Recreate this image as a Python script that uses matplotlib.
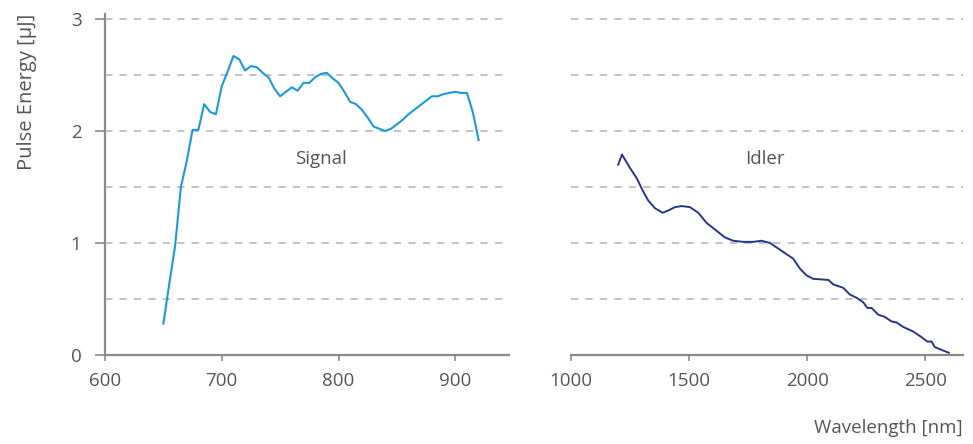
import numpy as np
import matplotlib
matplotlib.use('Agg')
import matplotlib.pyplot as plt

# Signal branch (nm, uJ)
sig_wl = [650, 655, 660, 665, 670, 675, 680, 685, 690, 695, 700, 705, 710, 715,
          720, 725, 730, 735, 740, 745, 750, 755, 760, 765, 770, 775, 780, 785,
          790, 795, 800, 805, 810, 815, 820, 825, 830, 835, 840, 845, 850, 855,
          860, 865, 870, 875, 880, 885, 890, 895, 900, 905, 910, 915, 920]
sig_E = [0.28, 0.63, 0.97, 1.50, 1.73, 2.01, 2.01, 2.24, 2.17, 2.15, 2.40, 2.53,
         2.67, 2.64, 2.54, 2.58, 2.57, 2.52, 2.48, 2.38, 2.31, 2.35, 2.39, 2.36,
         2.43, 2.43, 2.48, 2.51, 2.52, 2.47, 2.43, 2.35, 2.26, 2.24, 2.19, 2.12,
         2.04, 2.02, 2.00, 2.02, 2.06, 2.10, 2.15, 2.19, 2.23, 2.27, 2.31, 2.31,
         2.33, 2.34, 2.35, 2.34, 2.34, 2.17, 1.92]

# Idler branch (nm, uJ)
idl_wl = [1200, 1216, 1250, 1278, 1306, 1327, 1356, 1388, 1412, 1440, 1469, 1504,
          1539, 1574, 1610, 1652, 1687, 1730, 1772, 1807, 1843, 1885, 1941, 1970,
          1998, 2026, 2090, 2111, 2153, 2181, 2210, 2238, 2255, 2273, 2301, 2329,
          2357, 2379, 2407, 2449, 2484, 2509, 2527, 2541, 2576, 2600]
idl_E = [1.70, 1.79, 1.67, 1.58, 1.46, 1.38, 1.31, 1.27, 1.29, 1.32, 1.33, 1.32,
         1.27, 1.18, 1.12, 1.05, 1.02, 1.01, 1.01, 1.02, 1.00, 0.94, 0.86, 0.77,
         0.71, 0.68, 0.67, 0.63, 0.60, 0.54, 0.51, 0.47, 0.42, 0.42, 0.36, 0.34,
         0.30, 0.29, 0.25, 0.21, 0.16, 0.12, 0.12, 0.07, 0.04, 0.02]

yticks = [0, 1, 2, 3]
grid_y = [0.5, 1.0, 1.5, 2.0, 2.5, 3.0]

plt.rcParams['font.family'] = ['Open Sans', 'DejaVu Sans']
txt = '#555555'
spine_c = '#8a8a8a'
grid_c = '#bdbdbd'

fig = plt.figure(figsize=(9.73, 4.44), dpi=100)
ax1 = fig.add_axes([0.1079, 0.2005, 0.4152, 0.768])
ax2 = fig.add_axes([0.5868, 0.2005, 0.4029, 0.768])

for ax in (ax1, ax2):
    ax.set_ylim(0, 3.045)
    for g in grid_y:
        ax.axhline(g, color=grid_c, lw=1.3, ls=(0, (4, 4)), zorder=0)
    for s in ('top', 'right'):
        ax.spines[s].set_visible(False)
    ax.spines['bottom'].set_color(spine_c)
    ax.spines['bottom'].set_linewidth(1.6)
    ax.tick_params(axis='x', colors=spine_c, labelcolor=txt, labelsize=13.5,
                   length=4, width=1.2, pad=8)

ax1.plot(sig_wl, sig_E, color='#1a9bd7', lw=1.5)
ax1.set_xlim(600, 946)
ax1.set_xticks([600, 700, 800, 900])
ax1.set_yticks(yticks)
ax1.spines['left'].set_color(spine_c)
ax1.spines['left'].set_linewidth(1.6)
ax1.tick_params(axis='y', colors=spine_c, labelcolor=txt, labelsize=13.5,
                length=7, width=1.2, pad=10)
ax1.set_ylabel('Pulse Energy [µJ]', color=txt, fontsize=14.5, loc='top',
               labelpad=24)
ax1.text(785, 1.75, 'Signal', color=txt, fontsize=13.5, ha='center', va='center')

ax2.plot(idl_wl, idl_E, color='#27358c', lw=1.4)
ax2.set_xlim(1000, 2660)
ax2.set_xticks([1000, 1500, 2000, 2500])
ax2.set_yticks([])
ax2.spines['left'].set_visible(False)
ax2.text(1822, 1.75, 'Idler', color=txt, fontsize=13.5, ha='center', va='center')

fig.text(0.9897, 0.035, 'Wavelength [nm]', color=txt, fontsize=13.5,
         ha='right', va='center')

fig.savefig('out.png', dpi=100)
